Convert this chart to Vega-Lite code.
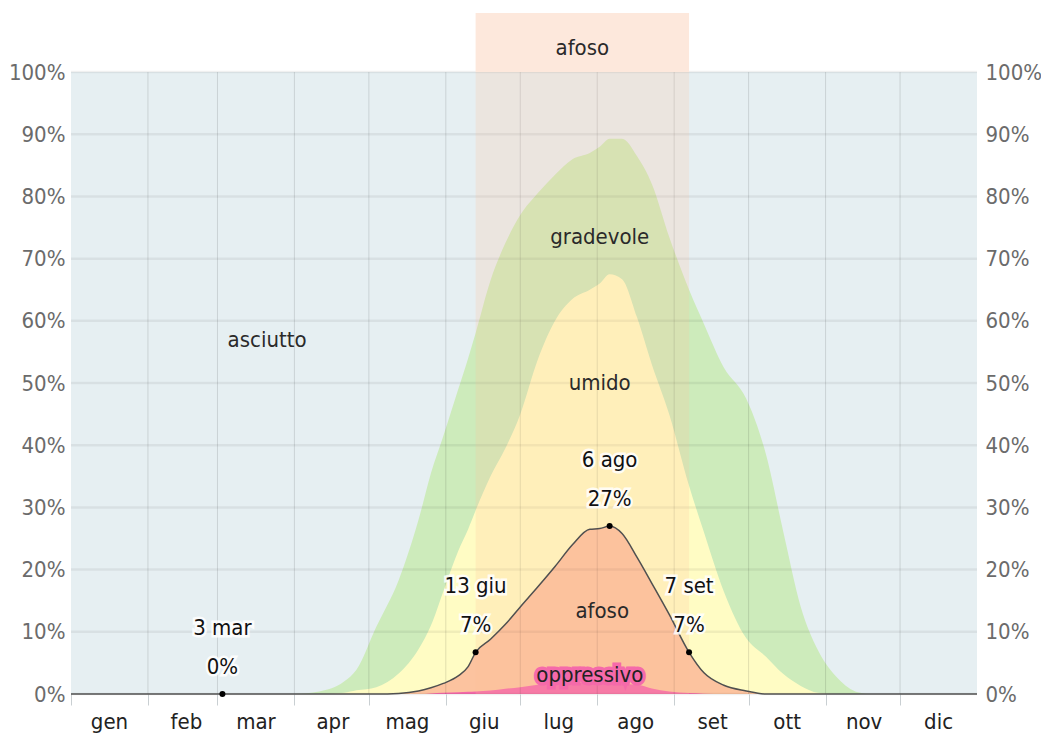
{
  "$schema": "https://vega.github.io/schema/vega-lite/v6.json",
  "width": 906,
  "height": 681,
  "autosize": "none",
  "padding": {"left": 71, "top": 13, "right": 64, "bottom": 49},
  "background": "white",
  "config": {
    "view": {"stroke": null},
    "font": "Liberation Sans Narrow, DejaVu Sans Condensed, Arial Narrow, sans-serif"
  },
  "datasets": {
    "comfort": [
      {"date": "2023-01-01", "gra": 0, "umi": 0, "afo": 0, "opp": 0},
      {"date": "2023-04-01", "gra": 0, "umi": 0, "afo": 0, "opp": 0},
      {"date": "2023-04-11", "gra": 0.4, "umi": 0, "afo": 0, "opp": 0},
      {"date": "2023-04-21", "gra": 2.0, "umi": 0.2, "afo": 0, "opp": 0},
      {"date": "2023-04-26", "gra": 3.9, "umi": 0.6, "afo": 0, "opp": 0},
      {"date": "2023-05-04", "gra": 10.8, "umi": 1.1, "afo": 0, "opp": 0},
      {"date": "2023-05-13", "gra": 18.3, "umi": 3.3, "afo": 0.1, "opp": 0},
      {"date": "2023-05-21", "gra": 28, "umi": 7.2, "afo": 0.5, "opp": 0},
      {"date": "2023-05-26", "gra": 35.5, "umi": 11, "afo": 1.0, "opp": 0.1},
      {"date": "2023-05-31", "gra": 41.5, "umi": 16.5, "afo": 1.7, "opp": 0.2},
      {"date": "2023-06-06", "gra": 49, "umi": 23, "afo": 2.9, "opp": 0.3},
      {"date": "2023-06-10", "gra": 54, "umi": 26.5, "afo": 4.4, "opp": 0.35},
      {"date": "2023-06-13", "gra": 58, "umi": 29.5, "afo": 6.7, "opp": 0.4},
      {"date": "2023-06-19", "gra": 66.5, "umi": 35, "afo": 8.8, "opp": 0.55},
      {"date": "2023-06-25", "gra": 72.5, "umi": 39.5, "afo": 11.2, "opp": 0.85},
      {"date": "2023-07-01", "gra": 77, "umi": 45, "afo": 14, "opp": 1.1},
      {"date": "2023-07-08", "gra": 80.5, "umi": 53.7, "afo": 17.2, "opp": 1.5},
      {"date": "2023-07-15", "gra": 83.5, "umi": 60, "afo": 20.5, "opp": 1.7},
      {"date": "2023-07-22", "gra": 86, "umi": 63.5, "afo": 24, "opp": 1.8},
      {"date": "2023-07-29", "gra": 87, "umi": 65, "afo": 26.5, "opp": 1.7},
      {"date": "2023-08-02", "gra": 88, "umi": 66, "afo": 26.6, "opp": 1.6},
      {"date": "2023-08-06", "gra": 89.3, "umi": 67.5, "afo": 27, "opp": 1.6},
      {"date": "2023-08-11", "gra": 89.3, "umi": 66.7, "afo": 25.8, "opp": 1.55},
      {"date": "2023-08-17", "gra": 86.5, "umi": 60.6, "afo": 22, "opp": 1.5},
      {"date": "2023-08-23", "gra": 82, "umi": 53, "afo": 17.8, "opp": 0.9},
      {"date": "2023-08-30", "gra": 73.5, "umi": 45, "afo": 12.8, "opp": 0.4},
      {"date": "2023-09-07", "gra": 65, "umi": 33.5, "afo": 6.7, "opp": 0.15},
      {"date": "2023-09-13", "gra": 59.5, "umi": 26, "afo": 3.4, "opp": 0.05},
      {"date": "2023-09-21", "gra": 52.5, "umi": 16.5, "afo": 1.4, "opp": 0},
      {"date": "2023-09-30", "gra": 47.5, "umi": 9, "afo": 0.5, "opp": 0},
      {"date": "2023-10-08", "gra": 38.5, "umi": 6, "afo": 0, "opp": 0},
      {"date": "2023-10-15", "gra": 26, "umi": 3.2, "afo": 0, "opp": 0},
      {"date": "2023-10-22", "gra": 14, "umi": 1.3, "afo": 0, "opp": 0},
      {"date": "2023-10-29", "gra": 7, "umi": 0.2, "afo": 0, "opp": 0},
      {"date": "2023-11-06", "gra": 2.5, "umi": 0, "afo": 0, "opp": 0},
      {"date": "2023-11-14", "gra": 0.3, "umi": 0, "afo": 0, "opp": 0},
      {"date": "2023-11-20", "gra": 0, "umi": 0, "afo": 0, "opp": 0},
      {"date": "2024-01-01", "gra": 0, "umi": 0, "afo": 0, "opp": 0}
    ],
    "bg": [{"date": "2023-01-01", "end": "2024-01-01"}],
    "period": [{"date": "2023-06-13", "end": "2023-09-07"}],
    "months": [
      {"date": "2023-02-01"}, {"date": "2023-03-01"}, {"date": "2023-04-01"},
      {"date": "2023-05-01"}, {"date": "2023-06-01"}, {"date": "2023-07-01"},
      {"date": "2023-08-01"}, {"date": "2023-09-01"}, {"date": "2023-10-01"},
      {"date": "2023-11-01"}, {"date": "2023-12-01"}
    ],
    "hgrid": [
      {"date": "2023-01-01", "end": "2024-01-01", "v": 0},
      {"date": "2023-01-01", "end": "2024-01-01", "v": 10},
      {"date": "2023-01-01", "end": "2024-01-01", "v": 20},
      {"date": "2023-01-01", "end": "2024-01-01", "v": 30},
      {"date": "2023-01-01", "end": "2024-01-01", "v": 40},
      {"date": "2023-01-01", "end": "2024-01-01", "v": 50},
      {"date": "2023-01-01", "end": "2024-01-01", "v": 60},
      {"date": "2023-01-01", "end": "2024-01-01", "v": 70},
      {"date": "2023-01-01", "end": "2024-01-01", "v": 80},
      {"date": "2023-01-01", "end": "2024-01-01", "v": 90},
      {"date": "2023-01-01", "end": "2024-01-01", "v": 100}
    ],
    "points": [
      {"date": "2023-03-03", "v": 0, "l1": "3 mar", "l2": "0%"},
      {"date": "2023-06-13", "v": 6.7, "l1": "13 giu", "l2": "7%"},
      {"date": "2023-08-06", "v": 27, "l1": "6 ago", "l2": "27%"},
      {"date": "2023-09-07", "v": 6.7, "l1": "7 set", "l2": "7%"}
    ],
    "labels": [
      {"date": "2023-03-21", "v": 57, "txt": "asciutto"},
      {"date": "2023-08-02", "v": 73.5, "txt": "gradevole"},
      {"date": "2023-08-02", "v": 50, "txt": "umido"},
      {"date": "2023-08-03", "v": 13.3, "txt": "afoso"},
      {"date": "2023-07-26", "v": 103.8, "txt": "afoso"}
    ],
    "opplabel": [
      {"date": "2023-07-29", "v": 3, "txt": "oppressivo"}
    ]
  },
  "encoding": {
    "x": {
      "field": "date",
      "type": "temporal",
      "scale": {
        "type": "utc",
        "domain": [
          {"year": 2023, "month": 1, "date": 1, "utc": true},
          {"year": 2024, "month": 1, "date": 1, "utc": true}
        ]
      },
      "axis": {
        "title": null,
        "grid": false,
        "domain": false,
        "ticks": true,
        "tickSize": 11,
        "tickColor": "#c9cfd2",
        "labelOffset": 38,
        "labelPadding": 6,
        "labelFontSize": 22,
        "labelColor": "#222222",
        "labelOverlap": false,
        "labelFlush": false,
        "values": [
          {"year": 2023, "month": 1, "date": 1, "utc": true},
          {"year": 2023, "month": 2, "date": 1, "utc": true},
          {"year": 2023, "month": 3, "date": 1, "utc": true},
          {"year": 2023, "month": 4, "date": 1, "utc": true},
          {"year": 2023, "month": 5, "date": 1, "utc": true},
          {"year": 2023, "month": 6, "date": 1, "utc": true},
          {"year": 2023, "month": 7, "date": 1, "utc": true},
          {"year": 2023, "month": 8, "date": 1, "utc": true},
          {"year": 2023, "month": 9, "date": 1, "utc": true},
          {"year": 2023, "month": 10, "date": 1, "utc": true},
          {"year": 2023, "month": 11, "date": 1, "utc": true},
          {"year": 2023, "month": 12, "date": 1, "utc": true}
        ],
        "labelExpr": "['gen','feb','mar','apr','mag','giu','lug','ago','set','ott','nov','dic'][utcmonth(datum.value)]"
      }
    }
  },
  "layer": [
    {
      "data": {"name": "bg"},
      "mark": {"type": "rect", "color": "#e6eff2"},
      "encoding": {
        "x2": {"field": "end"},
        "y": {
          "datum": 0,
          "type": "quantitative",
          "scale": {"domain": [0, 109.5], "nice": false, "zero": true},
          "axis": {
            "orient": "left",
            "title": null,
            "grid": false,
            "domain": false,
            "ticks": false,
            "labelPadding": 6,
            "labelFontSize": 22,
            "labelColor": "#6b6b6b",
            "values": [0, 10, 20, 30, 40, 50, 60, 70, 80, 90, 100],
            "labelExpr": "datum.value + '%'"
          }
        },
        "y2": {"datum": 100}
      }
    },
    {
      "data": {"name": "comfort"},
      "mark": {"type": "area", "color": "#cdebbb", "interpolate": "monotone"},
      "encoding": {"y": {"field": "gra", "type": "quantitative", "axis": null}}
    },
    {
      "data": {"name": "comfort"},
      "mark": {"type": "area", "color": "#fffcc4", "interpolate": "monotone"},
      "encoding": {"y": {"field": "umi", "type": "quantitative", "axis": null}}
    },
    {
      "data": {"name": "comfort"},
      "mark": {"type": "area", "color": "#fcc39f", "interpolate": "monotone"},
      "encoding": {"y": {"field": "afo", "type": "quantitative", "axis": null}}
    },
    {
      "data": {"name": "comfort"},
      "mark": {"type": "area", "color": "#f56aaa", "interpolate": "monotone"},
      "encoding": {"y": {"field": "opp", "type": "quantitative", "axis": null}}
    },
    {
      "data": {"name": "months"},
      "mark": {"type": "rule", "color": "#000000", "opacity": 0.12, "strokeWidth": 1},
      "encoding": {
        "y": {"datum": 0, "type": "quantitative", "axis": null},
        "y2": {"datum": 100}
      }
    },
    {
      "data": {"name": "hgrid"},
      "mark": {"type": "rule", "color": "#000000", "opacity": 0.06, "strokeWidth": 2.5},
      "encoding": {
        "x2": {"field": "end"},
        "y": {
          "field": "v",
          "type": "quantitative",
          "axis": {
            "orient": "right",
            "title": null,
            "grid": false,
            "domain": false,
            "ticks": false,
            "labelPadding": 8,
            "labelFontSize": 22,
            "labelColor": "#6b6b6b",
            "values": [0, 10, 20, 30, 40, 50, 60, 70, 80, 90, 100],
            "labelExpr": "datum.value + '%'"
          }
        }
      }
    },
    {
      "data": {"name": "period"},
      "mark": {"type": "rect", "color": "#ffbe96", "opacity": 0.2},
      "encoding": {
        "x2": {"field": "end"},
        "y": {"datum": 0, "type": "quantitative", "axis": null},
        "y2": {"datum": 100}
      }
    },
    {
      "data": {"name": "period"},
      "mark": {"type": "rect", "color": "#fde8dc"},
      "encoding": {
        "x2": {"field": "end"},
        "y": {"datum": 100, "type": "quantitative", "axis": null},
        "y2": {"datum": 109.5}
      }
    },
    {
      "data": {"name": "comfort"},
      "mark": {"type": "line", "color": "#505050", "strokeWidth": 1.5, "interpolate": "monotone"},
      "encoding": {"y": {"field": "afo", "type": "quantitative", "axis": null}}
    },
    {
      "data": {"name": "points"},
      "mark": {"type": "circle", "color": "#000000", "opacity": 1, "size": 36},
      "encoding": {"y": {"field": "v", "type": "quantitative", "axis": null}}
    },
    {
      "data": {"name": "points"},
      "mark": {"type": "text", "fontSize": 22, "baseline": "middle", "align": "center", "dy": -66, "stroke": "#ffffff", "strokeWidth": 5, "strokeOpacity": 0.85, "color": "#ffffff"},
      "encoding": {
        "y": {"field": "v", "type": "quantitative", "axis": null},
        "text": {"field": "l1"}
      }
    },
    {
      "data": {"name": "points"},
      "mark": {"type": "text", "fontSize": 22, "baseline": "middle", "align": "center", "dy": -27, "stroke": "#ffffff", "strokeWidth": 5, "strokeOpacity": 0.85, "color": "#ffffff"},
      "encoding": {
        "y": {"field": "v", "type": "quantitative", "axis": null},
        "text": {"field": "l2"}
      }
    },
    {
      "data": {"name": "points"},
      "mark": {"type": "text", "fontSize": 22, "baseline": "middle", "align": "center", "dy": -66, "color": "#111111"},
      "encoding": {
        "y": {"field": "v", "type": "quantitative", "axis": null},
        "text": {"field": "l1"}
      }
    },
    {
      "data": {"name": "points"},
      "mark": {"type": "text", "fontSize": 22, "baseline": "middle", "align": "center", "dy": -27, "color": "#111111"},
      "encoding": {
        "y": {"field": "v", "type": "quantitative", "axis": null},
        "text": {"field": "l2"}
      }
    },
    {
      "data": {"name": "opplabel"},
      "mark": {"type": "text", "fontSize": 22, "align": "center", "baseline": "middle", "stroke": "#f56aaa", "strokeWidth": 7, "color": "#f56aaa"},
      "encoding": {
        "y": {"field": "v", "type": "quantitative", "axis": null},
        "text": {"field": "txt"}
      }
    },
    {
      "data": {"name": "opplabel"},
      "mark": {"type": "text", "fontSize": 22, "align": "center", "baseline": "middle", "color": "#222222"},
      "encoding": {
        "y": {"field": "v", "type": "quantitative", "axis": null},
        "text": {"field": "txt"}
      }
    },
    {
      "data": {"name": "labels"},
      "mark": {"type": "text", "fontSize": 22, "align": "center", "baseline": "middle", "color": "#2a2a2a"},
      "encoding": {
        "y": {"field": "v", "type": "quantitative", "axis": null},
        "text": {"field": "txt"}
      }
    }
  ],
  "resolve": {"axis": {"y": "independent"}}
}
